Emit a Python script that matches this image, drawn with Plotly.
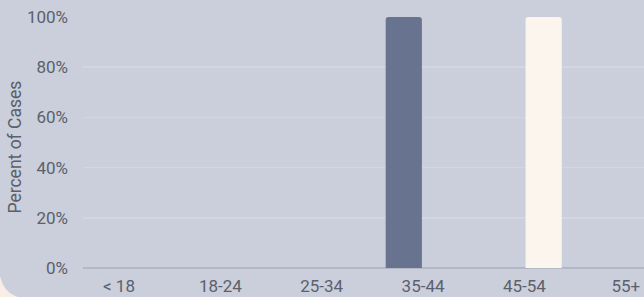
import plotly.graph_objects as go

categories = ["< 18", "18-24", "25-34", "35-44", "45-54", "55+"]
series_a = [0, 0, 0, 100, 0, 0]
series_b = [0, 0, 0, 0, 100, 0]
y_ticks = [0, 20, 40, 60, 80, 100]
y_tick_labels = ["0%", "20%", "40%", "60%", "80%", "100%"]

BG = "#CACFDB"
TEXT = "#5B606C"

fig = go.Figure()
fig.add_trace(go.Bar(x=categories, y=series_a, name="Group A",
                     marker=dict(color="#68738F", line=dict(width=0))))
fig.add_trace(go.Bar(x=categories, y=series_b, name="Group B",
                     marker=dict(color="#FCF5EE", line=dict(width=0))))

fig.update_layout(
    width=644, height=297,
    margin=dict(l=83, r=0, t=17, b=29),
    paper_bgcolor=BG, plot_bgcolor=BG,
    barmode="group", bargap=0.24, bargroupgap=0.06, barcornerradius=3,
    showlegend=False,
    font=dict(family="Roboto, sans-serif", size=17, color=TEXT),
    xaxis=dict(range=[-0.355, 5.18], showgrid=False, showline=False,
               zeroline=False, ticks="", ticklabelstandoff=6,
               tickfont=dict(size=17, color=TEXT), fixedrange=True),
    yaxis=dict(range=[0, 100], tickvals=y_ticks, ticktext=y_tick_labels,
               showgrid=True, gridcolor="#D2D6E0", gridwidth=1.5,
               zeroline=True, zerolinecolor="#B3B8C5", zerolinewidth=1.5,
               showline=False, ticks="", ticklabelstandoff=14,
               tickfont=dict(size=17, color=TEXT), fixedrange=True),
    annotations=[dict(text="Percent of Cases", textangle=-90,
                      xref="paper", yref="paper",
                      x=(15 - 83) / 561, y=0.48,
                      xanchor="center", yanchor="middle", showarrow=False,
                      font=dict(size=17.5, color=TEXT))],
    shapes=[dict(type="path", xref="paper", yref="paper",
                 path="M {x0},{y0} Q {xq},{yq} {x1},{y1} L {x0},{y1} Z".format(
                     x0=(0 - 83) / 561, y0=(268 - 276) / 251,
                     xq=(4 - 83) / 561, yq=(268 - 293) / 251,
                     x1=(18 - 83) / 561, y1=(268 - 297) / 251),
                 fillcolor="#F8EEE6", line=dict(width=0), layer="above")],
)

fig.write_html(
    "out.html",
    config={"displayModeBar": False, "staticPlot": True},
    post_script="document.body.style.margin='0';document.body.style.padding='0';"
                "document.body.style.overflow='hidden';"
                "document.body.style.background='" + BG + "';",
)
